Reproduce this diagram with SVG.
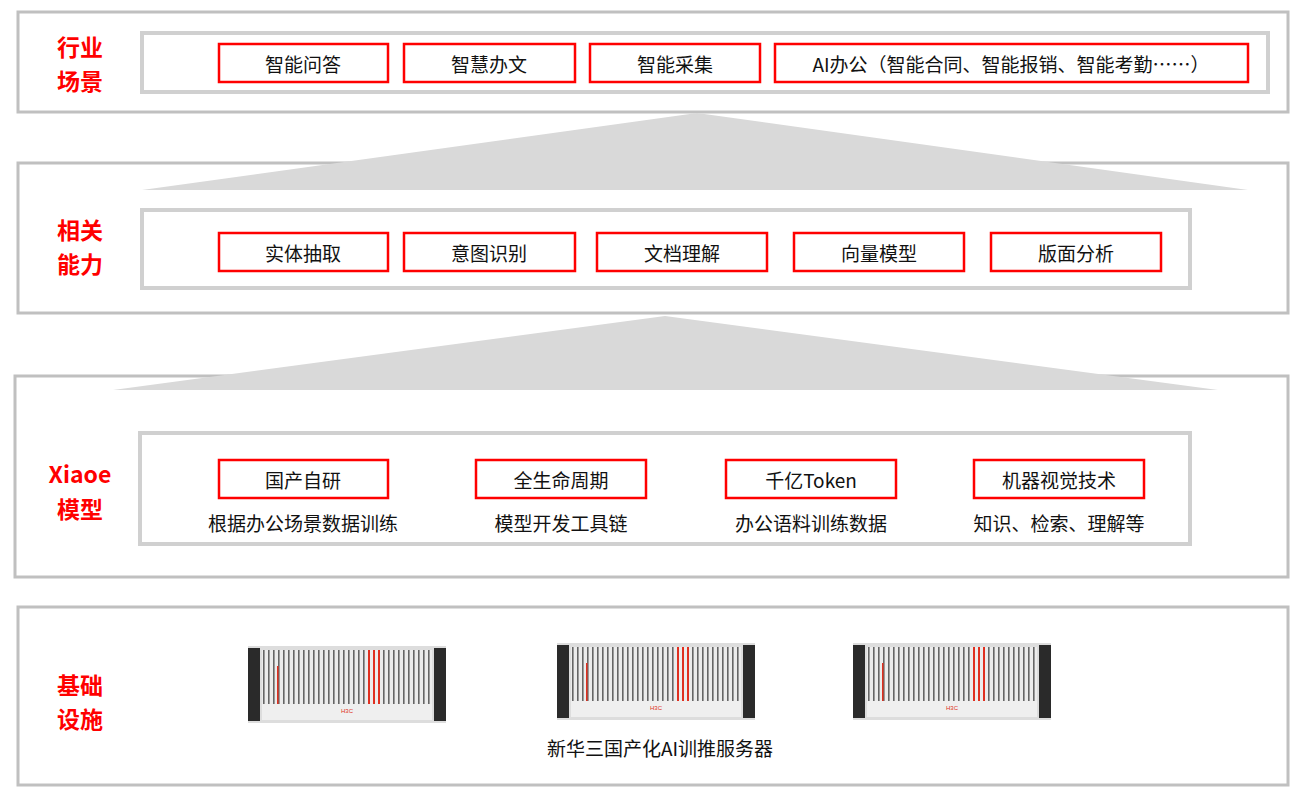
<svg xmlns="http://www.w3.org/2000/svg" width="1301" height="800" viewBox="0 0 1301 800">
<style>
.outer{fill:#fff;stroke:#c0c0c0;stroke-width:3}
.inner{fill:#fff;stroke:#d0d0d0;stroke-width:4}
.box{fill:#fff;stroke:#ff0000;stroke-width:2.5}
.t{font-family:"Noto Sans CJK SC","Liberation Sans",sans-serif;font-size:19px;fill:#111;text-anchor:middle;dominant-baseline:central}
.lab{font-family:"Noto Sans CJK SC","Liberation Sans",sans-serif;font-size:23px;font-weight:bold;fill:#ff0000;text-anchor:middle;dominant-baseline:central}
.tri{fill:#d9d9d9}
</style>
<defs>
<pattern id="fins" width="5" height="10" patternUnits="userSpaceOnUse">
<rect width="5" height="10" fill="#ececec"/><rect width="1.6" height="10" fill="#666"/>
</pattern>
<symbol id="srv" viewBox="0 0 198 77" width="198" height="77">
<rect x="0" y="0" width="198" height="77" fill="#ddd"/>
<rect x="0" y="2" width="12" height="73" fill="#2a2a2a"/>
<rect x="186" y="2" width="12" height="73" fill="#2a2a2a"/>
<rect x="14" y="4" width="170" height="54" fill="url(#fins)"/>
<rect x="120" y="4" width="2" height="54" fill="#e03020"/>
<rect x="125" y="4" width="2" height="54" fill="#e03020"/>
<rect x="130" y="4" width="2" height="54" fill="#e03020"/>
<rect x="29" y="20" width="1.5" height="38" fill="#e03020"/>
<rect x="14" y="58" width="170" height="16" fill="#efefef"/>
<text x="99" y="67" font-family="Liberation Sans,sans-serif" font-size="6" fill="#e03020" text-anchor="middle">H3C</text>
</symbol>
</defs>
<g id="layer1">
<rect class="outer" x="18" y="12" width="1270" height="100"/>
<text class="lab" x="80" y="46">行业</text><text class="lab" x="80" y="80">场景</text>
<rect class="inner" x="142" y="33" width="1126" height="59"/>
<rect class="box" x="219" y="44" width="169" height="38"/><text class="t" x="303" y="63">智能问答</text>
<rect class="box" x="404" y="44" width="171" height="38"/><text class="t" x="489" y="63">智慧办文</text>
<rect class="box" x="590" y="44" width="170" height="38"/><text class="t" x="675" y="63">智能采集</text>
<rect class="box" x="775" y="44" width="473" height="38"/><text class="t" x="1011" y="63">AI办公（智能合同、智能报销、智能考勤……）</text>
</g>
<g id="layer2">
<rect class="outer" x="18" y="163" width="1270" height="150"/>
<text class="lab" x="80" y="229">相关</text><text class="lab" x="80" y="263">能力</text>
<rect class="inner" x="142" y="210" width="1048" height="78"/>
<rect class="box" x="219" y="233" width="169" height="38"/><text class="t" x="303" y="252">实体抽取</text>
<rect class="box" x="404" y="233" width="171" height="38"/><text class="t" x="489" y="252">意图识别</text>
<rect class="box" x="597" y="233" width="170" height="38"/><text class="t" x="682" y="252">文档理解</text>
<rect class="box" x="794" y="233" width="170" height="38"/><text class="t" x="879" y="252">向量模型</text>
<rect class="box" x="991" y="233" width="170" height="38"/><text class="t" x="1076" y="252">版面分析</text>
</g>
<g id="layer3">
<rect class="outer" x="15" y="376" width="1273" height="201"/>
<text class="lab" x="80" y="473">Xiaoe</text><text class="lab" x="80" y="508">模型</text>
<rect class="inner" x="140" y="433" width="1050" height="111"/>
<rect class="box" x="219" y="460" width="169" height="38"/><text class="t" x="303" y="479">国产自研</text>
<rect class="box" x="476" y="460" width="170" height="38"/><text class="t" x="561" y="479">全生命周期</text>
<rect class="box" x="726" y="460" width="170" height="38"/><text class="t" x="811" y="479">千亿Token</text>
<rect class="box" x="974" y="460" width="170" height="38"/><text class="t" x="1059" y="479">机器视觉技术</text>
<text class="t" x="303" y="522">根据办公场景数据训练</text>
<text class="t" x="561" y="522">模型开发工具链</text>
<text class="t" x="811" y="522">办公语料训练数据</text>
<text class="t" x="1059" y="522">知识、检索、理解等</text>
</g>
<g id="layer4">
<rect class="outer" x="18" y="607" width="1270" height="178"/>
<text class="lab" x="80" y="684">基础</text><text class="lab" x="80" y="718">设施</text>
<use href="#srv" x="248" y="646"/>
<use href="#srv" x="557" y="643"/>
<use href="#srv" x="853" y="643"/>
<text class="t" x="660" y="747">新华三国产化AI训推服务器</text>
</g>
<g id="connectors">
<polygon class="tri" points="697,113 1248,190 142,190"/>
<polygon class="tri" points="665,316 1218,390 113,390"/>
</g>
</svg>
